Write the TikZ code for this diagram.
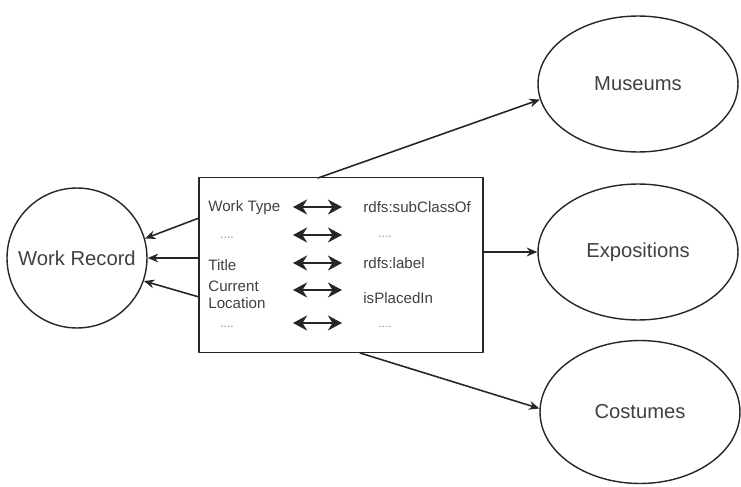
\documentclass[tikz,border=0pt]{standalone}
\usepackage{fontspec}
\setmainfont{Liberation Sans}
\usetikzlibrary{shapes.geometric,arrows.meta}
\begin{document}
\begin{tikzpicture}[x=0.02cm, y=-0.02cm, line join=round, line cap=round, >={Stealth[length=6pt,width=5pt]},
  big/.style={font=\fontsize{11.5}{13}\selectfont, text=black!75, draw=black!85, line width=0.8pt},
  ent/.style={big, ellipse, minimum width=4cm, minimum height=2.72cm},
  lab/.style={anchor=west, inner sep=0pt, font=\fontsize{8.6}{9.4}\selectfont, text=black!75},
  dots/.style={inner sep=0pt, font=\fontsize{7}{8}\selectfont, text=black!45},
  link/.style={->, line width=0.9pt, draw=black!85},
  pair/.style={{Stealth[length=8pt,width=8.5pt]}-{Stealth[length=8pt,width=8.5pt]}, line width=1.6pt, draw=black!85}]
\useasboundingbox (0,0) rectangle (741,487);
% classes
\node[big, circle, minimum size=2.8cm] (rec) at (77,258) {Work Record};
\node[ent] (mus) at (638,84) {Museums};
\node[ent] (expo) at (638,252) {Expositions};
\node[ent, minimum height=2.86cm] (cost) at (640,412) {Costumes};
% mapping box
\node[draw=black!85, line width=0.8pt, minimum width=5.68cm, minimum height=3.5cm] (map) at (341,265) {};
\node[lab] (wt) at (208,208) {Work Type};
\node[dots] (d1) at (227,238) {....};
\node[lab] (ti) at (208,265) {Title};
\node[lab, align=left] (cl) at (208,295) {Current\\Location};
\node[dots] (d2) at (227,327) {....};
\node[lab] (sc) at (363,207) {rdfs:subClassOf};
\node[dots] (d3) at (385,237) {....};
\node[lab] (rl) at (363,263) {rdfs:label};
\node[lab] (pi) at (363,298) {isPlacedIn};
\node[dots] (d4) at (385,327) {....};
\foreach \y [count=\i] in {207,235,263,290,323} {
  \coordinate (l\i) at (293,\y);
  \coordinate (r\i) at (342,\y);
  \draw[pair] (l\i) -- (r\i);
}
% links
\coordinate (w1) at (199,218);
\coordinate (w2) at (199,258);
\coordinate (w3) at (199,297);
\coordinate (n1) at (318,178);
\coordinate (e1) at (483,252);
\coordinate (s1) at (360,353);
\draw[link] (w1) -- (rec.16);
\draw[link] (w2) -- (rec.0);
\draw[link] (w3) -- (rec.-19);
\draw[link] (n1) -- (mus.189);
\draw[link] (e1) -- (expo.west);
\draw[link] (s1) -- (cost.178);
\end{tikzpicture}
\end{document}
